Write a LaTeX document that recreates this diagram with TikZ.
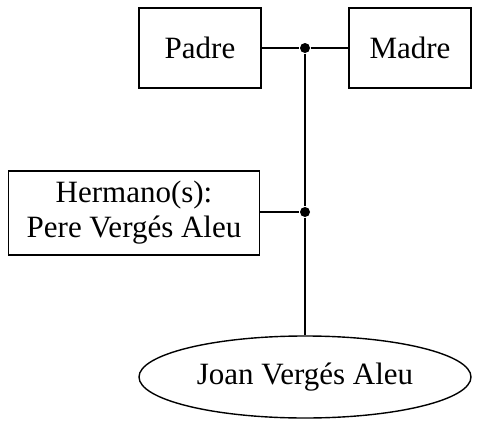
\documentclass[tikz,border=0pt]{standalone}
\usepackage{fontspec}
\setmainfont{Liberation Serif}
\usetikzlibrary{shapes.geometric}

\tikzset{every picture/.style={line width=1.4pt}}
\tikzset{persona/.style={draw, inner sep=0pt, align=center, minimum height=80pt},
  union/.style={circle, fill, inner sep=0pt, minimum size=10pt}}

\begin{document}
\begin{tikzpicture}[x=1pt,y=1pt,yscale=-1,xscale=1,font=\fontsize{31}{35}\selectfont]
\useasboundingbox (0,0) rectangle (480,426);

%Padres
\node [persona, minimum width=122pt] (padre) at (200,48) {Padre};
\node [persona, minimum width=122pt] (madre) at (410,48) {Madre};
\node [union] (pareja) at (305,48) {};

%Hermanos
\node [persona, minimum width=251pt, minimum height=84pt] (hermano) at (134,213) {Hermano(s):\\Pere Vergés Aleu};
\node [union] (hnos) at (305,212) {};

%Persona
\node [draw, ellipse, inner sep=0pt, minimum width=332pt, minimum height=82pt] (joan) at (305,377) {Joan Vergés Aleu};

%Lineas
\draw (padre) -- (pareja) -- (madre) ;
\draw (pareja) -- (hnos) -- (joan) ;
\draw (hermano.east |- hnos) -- (hnos) ;

\end{tikzpicture}
\end{document}
